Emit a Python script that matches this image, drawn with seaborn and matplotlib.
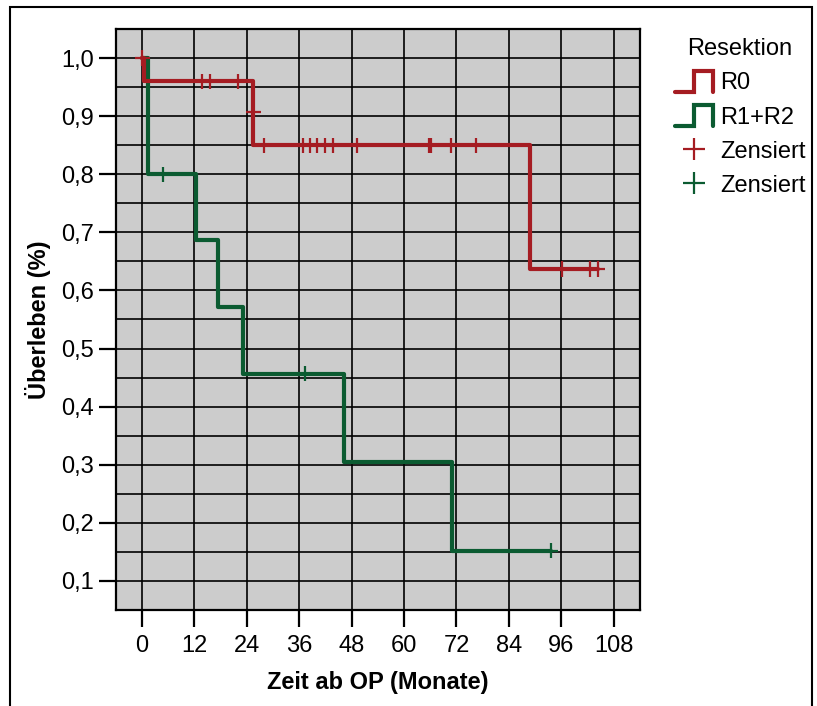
import matplotlib
matplotlib.use("Agg")
import matplotlib.pyplot as plt
from matplotlib.lines import Line2D
from matplotlib.legend_handler import HandlerBase
from matplotlib.patches import Rectangle
import seaborn as sns
import pandas as pd

# Kaplan-Meier steps (months, survival fraction)
r0_times = [0, 0.4, 25.5, 88.9]
r0_surv = [1.0, 0.96, 0.85, 0.637]
r0_end = 104.3
r12_times = [0, 1.4, 12.4, 17.4, 23.1, 46.3, 71.0]
r12_surv = [1.0, 0.8, 0.686, 0.571, 0.457, 0.305, 0.152]
r12_end = 93.6

# censored cases
r0_cens_t = [0.1, 13.8, 15.7, 22.1, 25.5, 28.0, 36.9, 38.6, 40.2, 41.9, 43.7,
             49.2, 65.8, 66.2, 70.8, 76.5, 96.2, 102.6, 104.3]
r0_cens_s = [1.0, 0.96, 0.96, 0.96, 0.907, 0.85, 0.85, 0.85, 0.85, 0.85, 0.85,
             0.85, 0.85, 0.85, 0.85, 0.85, 0.637, 0.637, 0.637]
r12_cens_t = [4.9, 37.4, 93.6]
r12_cens_s = [0.8, 0.457, 0.152]

groups = ["R0", "R1+R2"]
colors = {"R0": "#A51C22", "R1+R2": "#0B5B31"}
x_ticks = [0, 12, 24, 36, 48, 60, 72, 84, 96, 108]
y_ticks = [0.1, 0.2, 0.3, 0.4, 0.5, 0.6, 0.7, 0.8, 0.9, 1.0]
y_ticklabels = ["0,1", "0,2", "0,3", "0,4", "0,5", "0,6", "0,7", "0,8", "0,9", "1,0"]

# step tables for seaborn
steps = pd.concat([
    pd.DataFrame({"t": r12_times + [r12_end], "s": r12_surv + [r12_surv[-1]], "grp": "R1+R2"}),
    pd.DataFrame({"t": r0_times + [r0_end], "s": r0_surv + [r0_surv[-1]], "grp": "R0"}),
])
cens = pd.concat([
    pd.DataFrame({"t": r12_cens_t, "s": r12_cens_s, "grp": "R1+R2"}),
    pd.DataFrame({"t": r0_cens_t, "s": r0_cens_s, "grp": "R0"}),
])

sns.set_style("white")
plt.rcParams["font.family"] = ["Liberation Sans", "DejaVu Sans"]
plt.rcParams["text.color"] = "black"
plt.rcParams["axes.labelcolor"] = "black"
plt.rcParams["xtick.color"] = "black"
plt.rcParams["ytick.color"] = "black"

FS = 17

fig = plt.figure(figsize=(8.17, 7.06), dpi=100)
ax = fig.add_axes([116 / 817, 96 / 706, 524 / 817, 581 / 706])
ax.set_facecolor("#CCCCCC")

sns.lineplot(data=steps, x="t", y="s", hue="grp", hue_order=["R1+R2", "R0"],
             palette=colors, drawstyle="steps-post", estimator=None, sort=False,
             linewidth=3, legend=False, ax=ax, zorder=3)
sns.scatterplot(data=cens, x="t", y="s", hue="grp", palette=colors, marker="+",
                s=120, linewidth=1.6, legend=False, ax=ax, zorder=4)

ax.set_xlim(-5.9, 114)
ax.set_ylim(0.05, 1.05)
ax.set_xticks(x_ticks)
ax.set_yticks(y_ticks)
ax.set_yticklabels(y_ticklabels)
ax.set_yticks([0.05 + 0.1 * i for i in range(11)], minor=True)
ax.grid(True, which="both", color="black", linewidth=1.2, zorder=1)
ax.set_axisbelow(True)
ax.tick_params(axis="both", which="major", direction="out", length=12, width=1.6,
               color="black", labelsize=FS, pad=4, bottom=True, left=True)
ax.tick_params(axis="x", which="major", pad=6)
ax.tick_params(axis="y", which="minor", length=0)
for sp in ax.spines.values():
    sp.set_color("black")
    sp.set_linewidth(1.6)

ax.set_xlabel("Zeit ab OP (Monate)", fontsize=FS, fontweight="bold", labelpad=10)
ax.set_ylabel("Überleben (%)", fontsize=FS, fontweight="bold", labelpad=7)


class StepHandler(HandlerBase):
    def create_artists(self, legend, orig_handle, xdescent, ydescent, width, height, fontsize, trans):
        x0 = -xdescent
        y0 = -ydescent
        xs = [x0, x0 + width * 0.5, x0 + width * 0.5, x0 + width, x0 + width]
        ys = [y0, y0, y0 + height, y0 + height, y0]
        line = Line2D(xs, ys, color=orig_handle.get_color(), linewidth=3,
                      solid_joinstyle="miter", transform=trans)
        return [line]


h_r0 = Line2D([], [], color=colors["R0"])
h_r12 = Line2D([], [], color=colors["R1+R2"])
c_r0 = Line2D([], [], color=colors["R0"], marker="+", linestyle="none", markersize=16, markeredgewidth=1.6)
c_r12 = Line2D([], [], color=colors["R1+R2"], marker="+", linestyle="none", markersize=16, markeredgewidth=1.6)

fig.legend([h_r0, h_r12, c_r0, c_r12], ["R0", "R1+R2", "Zensiert", "Zensiert"],
           title="Resektion", loc="upper left", bbox_to_anchor=(675 / 817, 1 - 38 / 706),
           frameon=False, fontsize=FS, title_fontsize=FS, handlelength=1.6,
           handleheight=1.0, labelspacing=0.45, handletextpad=0.3, borderpad=0,
           borderaxespad=0, handler_map={h_r0: StepHandler(), h_r12: StepHandler()})

# outer frame around the whole chart
fig.patches.append(Rectangle((10 / 817, -0.02), 802 / 817, 1.02 - 7 / 706, transform=fig.transFigure,
                             fill=False, edgecolor="black", linewidth=1.5))

fig.savefig("out.png", dpi=100)
